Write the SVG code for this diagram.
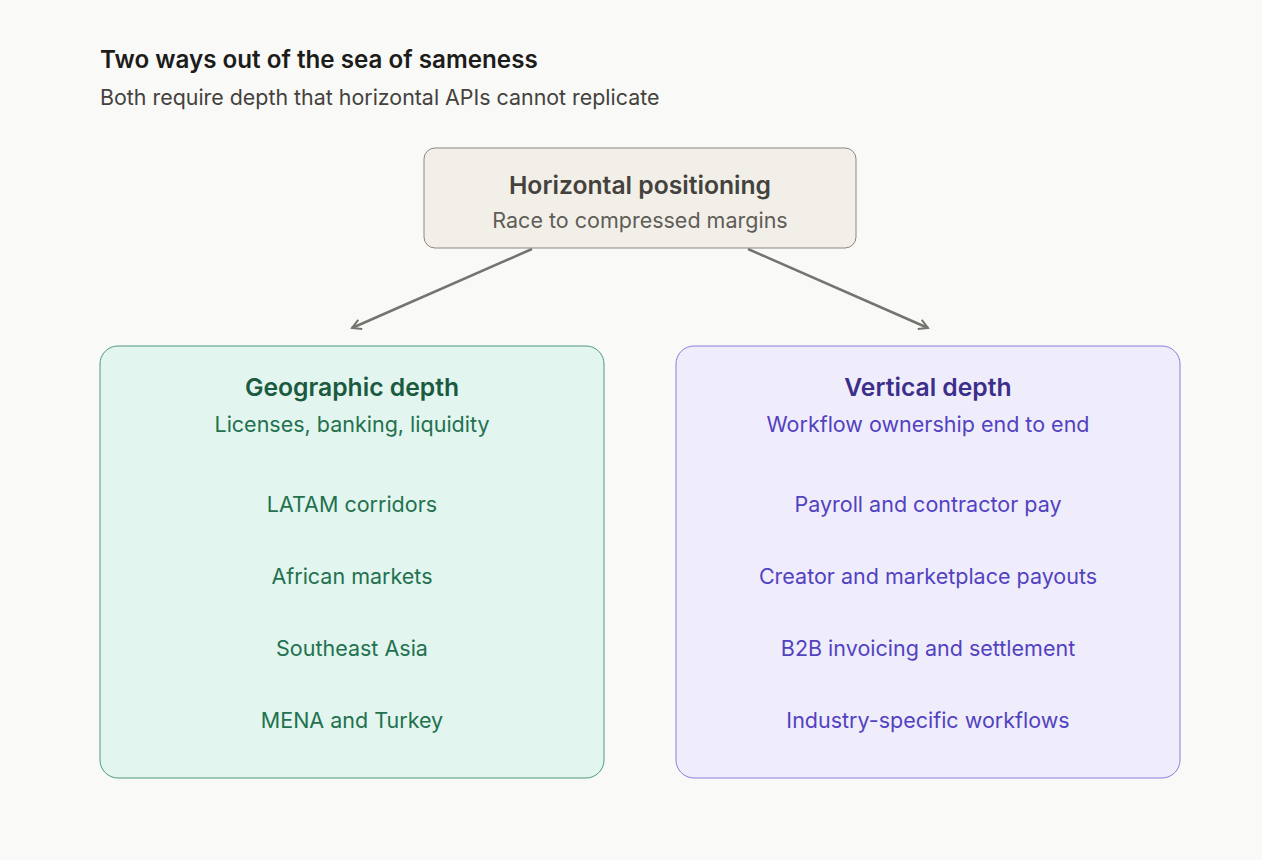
<svg xmlns="http://www.w3.org/2000/svg" width="1262" height="860" viewBox="0 0 1262 860">
<defs>
<style>
text{font-family:Inter,"Noto Sans",sans-serif}
.h{font-size:24.7px;font-weight:600;text-anchor:middle}
.s{font-size:21.5px;text-anchor:middle}
.g{fill:#23714f}.v{fill:#5242c0}
</style>
<marker id="a" viewBox="0 0 12 12" refX="10" refY="6" markerWidth="12" markerHeight="12" markerUnits="userSpaceOnUse" orient="auto"><path d="M1 1L10 6L1 11" fill="none" stroke="#75736e" stroke-width="2"/></marker>
</defs>
<rect width="1262" height="860" fill="#f9f9f7"/>
<text x="100" y="68" font-size="24.2" font-weight="600" fill="#1c1c1a">Two ways out of the sea of sameness</text>
<text x="100" y="105" font-size="21.4" fill="#44423d">Both require depth that horizontal APIs cannot replicate</text>
<g id="connectors" stroke="#75736e" stroke-width="2.5" fill="none" marker-end="url(#a)">
<line x1="532" y1="249" x2="352" y2="328"/>
<line x1="748" y1="249" x2="928" y2="328"/>
</g>
<g id="horizontal">
<rect x="424" y="148" width="432" height="100" rx="11" fill="#f2efe9" stroke="#8a8780"/>
<text class="h" x="640" y="194" fill="#44423d">Horizontal positioning</text>
<text class="s" x="640" y="228" fill="#5f5d57">Race to compressed margins</text>
</g>
<g id="geographic">
<rect x="100" y="346" width="504" height="432" rx="18" fill="#e2f5ee" stroke="#4f9a7c"/>
<text class="h" x="352" y="396" fill="#1a5a40">Geographic depth</text>
<text class="s g" x="352" y="432">Licenses, banking, liquidity</text>
<text class="s g" x="352" y="512">LATAM corridors</text>
<text class="s g" x="352" y="584">African markets</text>
<text class="s g" x="352" y="656">Southeast Asia</text>
<text class="s g" x="352" y="728">MENA and Turkey</text>
</g>
<g id="vertical">
<rect x="676" y="346" width="504" height="432" rx="18" fill="#efedfc" stroke="#8a7fdc"/>
<text class="h" x="928" y="396" fill="#3b2f8a">Vertical depth</text>
<text class="s v" x="928" y="432">Workflow ownership end to end</text>
<text class="s v" x="928" y="512">Payroll and contractor pay</text>
<text class="s v" x="928" y="584">Creator and marketplace payouts</text>
<text class="s v" x="928" y="656">B2B invoicing and settlement</text>
<text class="s v" x="928" y="728">Industry-specific workflows</text>
</g>
</svg>
